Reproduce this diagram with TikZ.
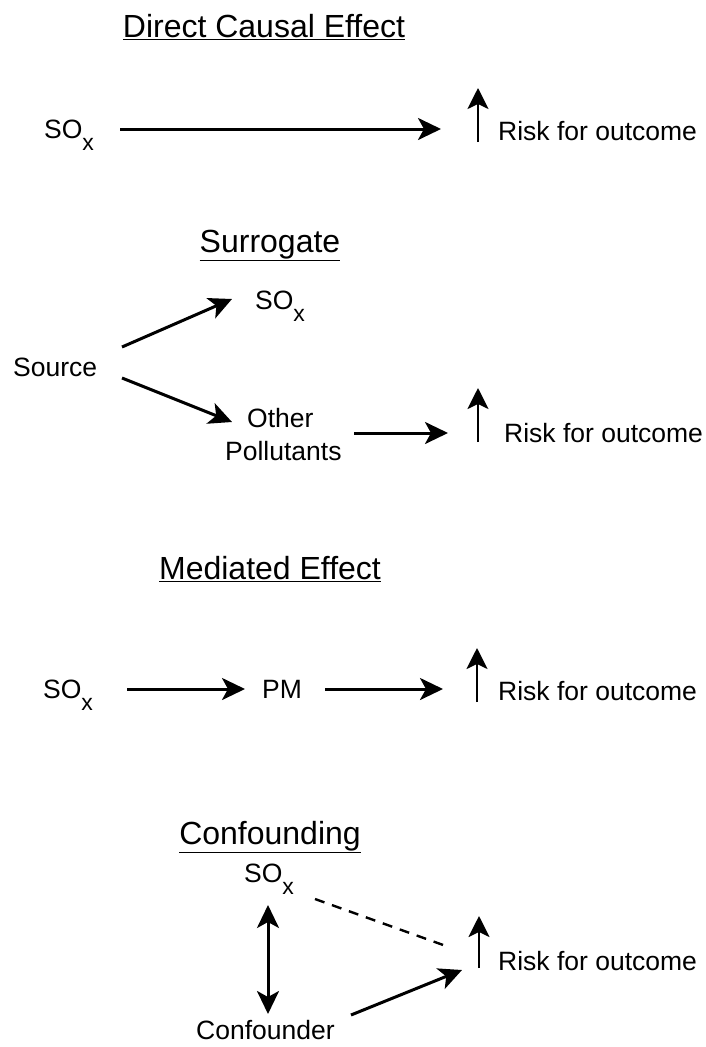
\documentclass[tikz,border=0pt]{standalone}
\usepackage{fontspec}
\setmainfont{Liberation Sans}
\usetikzlibrary{arrows.meta,positioning}
\newcommand{\soX}{SO\raisebox{-12pt}{\fontsize{23}{23}\selectfont x}}
\newcommand{\riskText}{Risk for outcome}
\tikzset{
  lbl/.style={inner sep=0pt, anchor=base west, font=\fontsize{26.5}{30}\selectfont},
  ttl/.style={inner sep=0pt, anchor=base, font=\fontsize{32}{36}\selectfont},
  arr/.style={line width=3pt, -{Stealth[length=23pt,width=22pt,inset=6pt]}},
  dblarr/.style={line width=3pt, {Stealth[length=23pt,width=22pt,inset=6pt]}-{Stealth[length=23pt,width=22pt,inset=6pt]}},
  uparr/.style={line width=2.4pt, -{Stealth[length=21pt,width=21pt,inset=5pt]}},
  dasharr/.style={line width=2.4pt, dash pattern=on 10pt off 8pt},
}
\begin{document}
\begin{tikzpicture}[x=1pt,y=-1pt]
\useasboundingbox (0,0) rectangle (706,1047);

% Direct causal effect
\node[ttl] (ttlDirect) at (264,37) {\underline{Direct Causal Effect}};
\node[lbl] (soA) at (44,138) {\soX};
\node[lbl] (riskA) at (498,140) {\riskText};
\coordinate (soAout) at (120,129);
\coordinate (riskAin) at (441,129);
\coordinate (upAbot) at (478,142);
\coordinate (upAtop) at (478,88);
\draw[arr] (soAout) -- (riskAin);
\draw[uparr] (upAbot) -- (upAtop);

% Surrogate
\node[ttl] (ttlSurr) at (270,252) {\underline{Surrogate}};
\node[lbl] (soB) at (255,309) {\soX};
\node[lbl] (source) at (13,376) {Source};
\node[lbl] (other) at (247,427) {Other};
\node[lbl] (pollut) at (225,460) {Pollutants};
\node[lbl] (riskB) at (504,442) {\riskText};
\coordinate (srcUp) at (122,347);
\coordinate (soBin) at (232,299);
\coordinate (srcDn) at (122,378);
\coordinate (otherIn) at (232,422);
\coordinate (otherOut) at (354,433);
\coordinate (riskBin) at (448,433);
\coordinate (upBbot) at (478,442);
\coordinate (upBtop) at (478,388);
\draw[arr] (srcUp) -- (soBin);
\draw[arr] (srcDn) -- (otherIn);
\draw[arr] (otherOut) -- (riskBin);
\draw[uparr] (upBbot) -- (upBtop);

% Mediated effect
\node[ttl] (ttlMed) at (270,579) {\underline{Mediated Effect}};
\node[lbl] (soC) at (43,698) {\soX};
\node[lbl] (pm) at (262,698) {PM};
\node[lbl] (riskC) at (498,700) {\riskText};
\coordinate (soCout) at (127,689);
\coordinate (pmIn) at (245,689);
\coordinate (pmOut) at (325,689);
\coordinate (riskCin) at (443,689);
\coordinate (upCbot) at (477,702);
\coordinate (upCtop) at (477,648);
\draw[arr] (soCout) -- (pmIn);
\draw[arr] (pmOut) -- (riskCin);
\draw[uparr] (upCbot) -- (upCtop);

% Confounding
\node[ttl] (ttlConf) at (270,844) {\underline{Confounding}};
\node[lbl] (soD) at (244,882) {\soX};
\node[lbl] (confr) at (196,1039) {Confounder};
\node[lbl] (riskD) at (498,970) {\riskText};
\coordinate (soDbot) at (268,905);
\coordinate (confTop) at (268,1014);
\coordinate (soDout) at (315,899);
\coordinate (riskDdash) at (446,946);
\coordinate (confOut) at (351,1015);
\coordinate (riskDin) at (462,970);
\coordinate (upDbot) at (479,968);
\coordinate (upDtop) at (479,916);
\draw[dblarr] (soDbot) -- (confTop);
\draw[dasharr] (soDout) -- (riskDdash);
\draw[arr] (confOut) -- (riskDin);
\draw[uparr] (upDbot) -- (upDtop);
\end{tikzpicture}
\end{document}
